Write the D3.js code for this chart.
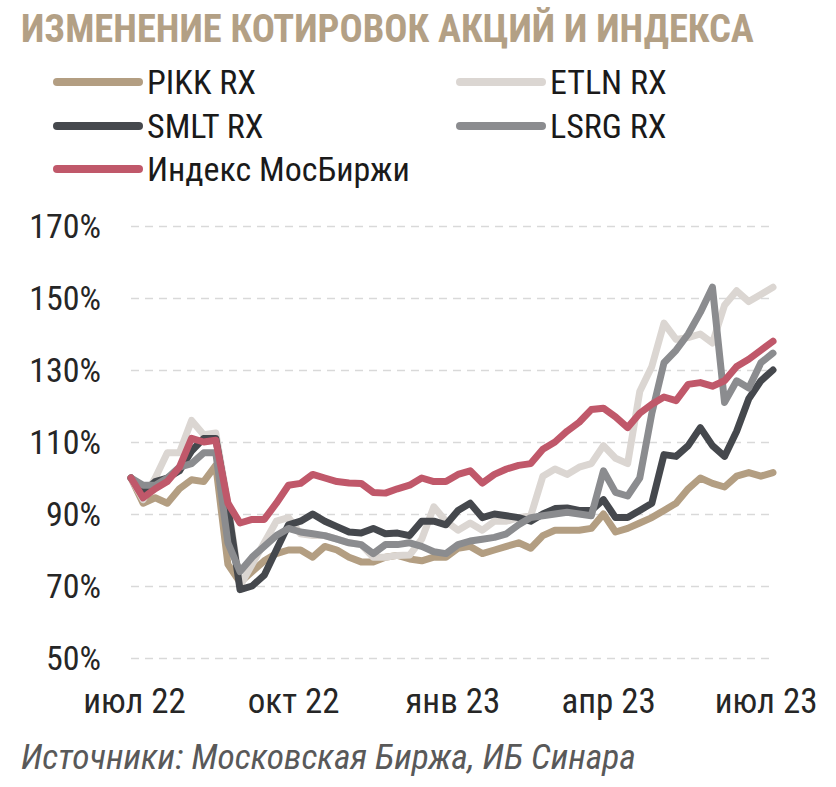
<!DOCTYPE html>
<html><head><meta charset="utf-8">
<script src="https://cdn.jsdelivr.net/npm/d3@7/dist/d3.min.js"></script>
<style>
body{margin:0;background:#fff}
text{font-family:"Liberation Sans Narrow","Roboto Condensed","Open Sans",sans-serif}
</style>
</head><body><svg id="c" width="836" height="787"></svg>
<script>
// ---- data (weekly closes, % of 1 Jul 2022 level) ----
const startDate = new Date(2022, 6, 1);
const seriesNames = ["PIKK RX", "ETLN RX", "SMLT RX", "LSRG RX", "Индекс МосБиржи"];
const seriesColors = ["#b39e82", "#dbd6d2", "#45484d", "#8b8c8f", "#c0586a"];

const pikk = [100,93,94.5,93,97,99.5,99,103.5,76,71,74,77,79,80,80,78,81,80,78,76.7,76.7,78,78.5,77.5,77,78,78,80.5,81,79,80,81,82,80.5,84,85.5,85.5,85.5,86,90,85,86,87.5,89,91,93,97,100,98.5,97.5,100.5,101.5,100.5,101.5];
const etln = [100,94,100,107,107,116,112,112.5,93,70,76,82,88,89,84.5,84,84,83,82,81.5,78,78,78.5,78.6,83,92,88,85.5,87.5,85.5,88,88,89,89.5,100.5,102.5,101,103,104,109,105.5,104,124,131,143,138.5,139,140,137.5,148,152,149,151,153];
const smlt = [100,96,99,100,102,107.5,111,111,92,69,70,73,80,87,88,90,88,86.5,85,84.7,86,84.5,84.7,84,88,88,87,91,93,89,90,89.5,89,88,90,91.5,91.7,91,91,94,89,89,91,93,106.5,106,109,114,109,106,113,122,127,130];
const lsrg = [100,98,98,100,103,104,107,107,82,74,78,81,84,86,85,84.5,84,83,82,81.5,79,81.5,81.5,82,81,79.5,79,81.5,82.5,83,83.5,84.5,87,89,89.5,90,90.5,90,89.5,102,96,95,100,118,132,135.5,140,146,153,121,127,125,132,134.7];
const imoex = [100,94.5,97,99,103,111,110,110.5,93,87.5,88.5,88.5,93,98,98.5,101,100,99,98.6,98.5,96,95.8,97,98,100,99,99,101,102,98.6,101,102.5,103.5,104,108,110,113,115.5,119,119.4,117,114,118,120.5,122.5,121.5,126,126.5,125.5,127,131,133,135.5,138];

const yTicks = [50,70,90,110,130,150,170];
const xTickDates = [new Date(2022,6,1), new Date(2022,9,1), new Date(2023,0,1), new Date(2023,3,1), new Date(2023,6,1)];
const xTickLabels = ["июл 22","окт 22","янв 23","апр 23","июл 23"];

const titleText = "ИЗМЕНЕНИЕ КОТИРОВОК АКЦИЙ И ИНДЕКСА";
const sourceText = "Источники: Московская Биржа, ИБ Синара";

// ---- build ----
const allSeries = [pikk, etln, smlt, lsrg, imoex];
const dates = pikk.map((_, i) => d3.timeDay.offset(startDate, 7 * i));

const svg = d3.select("#c");
const x = d3.scaleTime().domain([startDate, dates[dates.length - 1]]).range([131, 773]);
const y = d3.scaleLinear().domain([50, 170]).range([658, 226]);

// title
svg.append("text").attr("x", 21).attr("y", 42)
  .attr("font-size", 38.5).attr("font-weight", "bold").attr("fill", "#b3a085")
  .text(titleText);

// legend
const legPos = [[57, 82], [460, 82], [57, 126], [460, 126], [57, 169]];
seriesNames.forEach((n, i) => {
  const [lx, ly] = legPos[i];
  svg.append("line").attr("x1", lx).attr("x2", lx + 82).attr("y1", ly).attr("y2", ly)
    .attr("stroke", seriesColors[i]).attr("stroke-width", 8).attr("stroke-linecap", "round");
  svg.append("text").attr("x", lx + 90).attr("y", ly + 12).attr("font-size", 34).attr("fill", "#1a1a1a").text(n);
});

// y axis + grid
const yAxis = d3.axisLeft(y).tickValues(yTicks).tickFormat(d => d + "%").tickSize(0).tickPadding(0);
const gy = svg.append("g").attr("transform", "translate(101,0)").call(yAxis);
gy.select(".domain").remove();
gy.selectAll("text").attr("font-size", 34).attr("fill", "#262626").attr("font-family", null).attr("dy", "0.35em");

const grid = d3.axisLeft(y).tickValues(yTicks).tickSize(-640).tickFormat("");
const gg = svg.append("g").attr("transform", "translate(131,0)").call(grid);
gg.select(".domain").remove();
gg.selectAll("line").attr("stroke", "#d9d9d9").attr("stroke-width", 1.6).attr("stroke-dasharray", "8,6");

// x axis
const xAxis = d3.axisBottom(x).tickValues(xTickDates).tickFormat((d, i) => xTickLabels[i]).tickSize(0).tickPadding(0);
const gx = svg.append("g").attr("transform", "translate(3,713)").call(xAxis);
gx.select(".domain").remove();
gx.selectAll("text").attr("font-size", 35).attr("fill", "#262626").attr("font-family", null).attr("dy", 0);

// lines
const line = d3.line().x((d, i) => x(dates[i])).y(d => y(d)).curve(d3.curveLinear);
allSeries.forEach((s, i) => {
  svg.append("path").datum(s).attr("d", line).attr("fill", "none")
    .attr("stroke", seriesColors[i]).attr("stroke-width", 7)
    .attr("stroke-linejoin", "round").attr("stroke-linecap", "round");
});

// source
svg.append("text").attr("x", 21).attr("y", 769).attr("font-size", 35.5).attr("font-style", "italic")
  .attr("fill", "#595959").text(sourceText);
</script>
</body></html>
